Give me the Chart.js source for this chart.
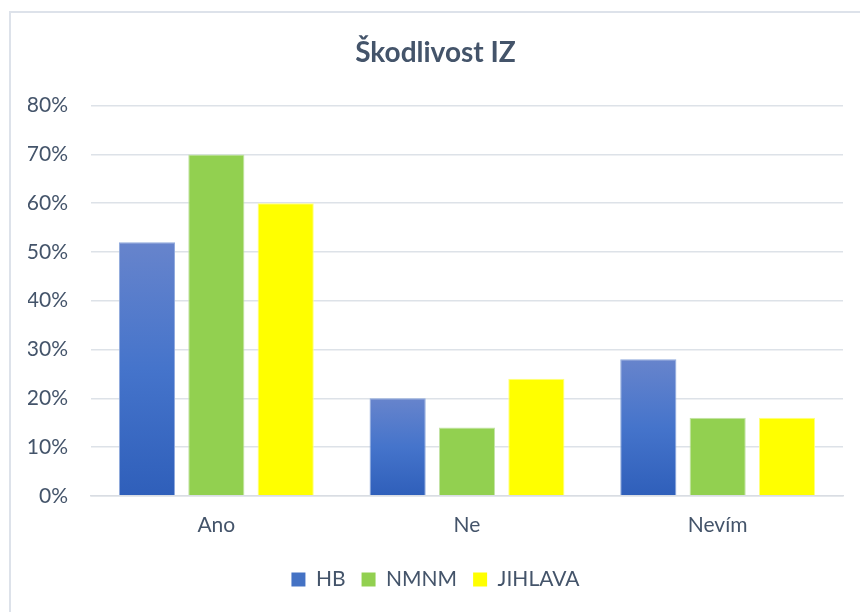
<!DOCTYPE html>
<html><head><meta charset="utf-8">
<script src="https://cdn.jsdelivr.net/npm/chart.js@4/dist/chart.umd.min.js"></script>
<style>html,body{margin:0;padding:0;background:#fff;}#wrap{width:860px;height:612px;position:relative;}</style>
</head><body><div id="wrap"><canvas id="c" width="860" height="612"></canvas></div>
<script>
const categories = ["Ano", "Ne", "Nevím"];
const seriesNames = ["HB", "NMNM", "JIHLAVA"];
const hbValues = [52, 20, 28];
const nmnmValues = [70, 14, 16];
const jihlavaValues = [60, 24, 16];
const yTicks = [0, 10, 20, 30, 40, 50, 60, 70, 80];

const textColor = "#44546a";
const fontFam = "Lato, 'Open Sans', sans-serif";

function hbGradient(ctx) {
  const chart = ctx.chart;
  if (!chart.chartArea || ctx.type !== 'data') return "#4472c4";
  const y = chart.scales.y;
  const top = y.getPixelForValue(ctx.raw);
  const bot = y.getPixelForValue(0);
  const g = chart.ctx.createLinearGradient(0, top, 0, bot);
  g.addColorStop(0, "#6784cc");
  g.addColorStop(0.5, "#4574cb");
  g.addColorStop(1, "#2f5fba");
  return g;
}

const borderPlugin = {
  id: 'frame',
  beforeDraw(chart) {
    const c = chart.ctx;
    c.save();
    c.fillStyle = "#fff";
    c.fillRect(0, 0, chart.width, chart.height);
    c.strokeStyle = "#dde2ea";
    c.lineWidth = 2;
    c.strokeRect(10, 12, 900, 700);
    c.restore();
  }
};

new Chart(document.getElementById('c'), {
  type: 'bar',
  data: {
    labels: categories,
    datasets: [
      { label: seriesNames[0], data: hbValues, backgroundColor: hbGradient, borderColor: "#8fa9dc", borderWidth: 1 },
      { label: seriesNames[1], data: nmnmValues, backgroundColor: "#92d050", borderColor: "#c4e3a8", borderWidth: 1 },
      { label: seriesNames[2], data: jihlavaValues, backgroundColor: "#ffff00", borderColor: "#ffff80", borderWidth: 1 }
    ]
  },
  options: {
    responsive: false,
    animation: false,
    devicePixelRatio: 1,
    layout: { padding: { left: 28, right: 17, top: 36, bottom: 12 } },
    categoryPercentage: 0.83,
    barPercentage: 0.81,
    plugins: {
      title: { display: true, text: "Škodlivost IZ", color: textColor,
        font: { family: fontFam, size: 28, weight: 'bold' }, padding: { top: 0, bottom: 36 } },
      legend: { position: 'bottom',
        labels: { color: textColor, font: { family: fontFam, size: 21 }, boxWidth: 14, boxHeight: 14, padding: 16,
          generateLabels(chart) {
            return chart.data.datasets.map((d, i) => ({
              text: d.label,
              fillStyle: ["#4472c4", "#92d050", "#ffff00"][i],
              strokeStyle: ["#4472c4", "#92d050", "#ffff00"][i],
              lineWidth: 0, fontColor: textColor, datasetIndex: i, hidden: false
            }));
          } } },
      tooltip: { enabled: false }
    },
    scales: {
      x: {
        afterFit(s) { s.height += 6; },
        grid: { display: false },
        border: { display: true, color: "#d9dde3", width: 1.5 },
        ticks: { color: textColor, font: { family: fontFam, size: 21 }, padding: 9 }
      },
      y: {
        min: 0, max: 80,
        afterBuildTicks(s) { s.ticks = yTicks.map(v => ({ value: v })); },
        afterFit(s) { s.width = 63; },
        grid: { color: "#dde2e8", lineWidth: 1.5, drawTicks: false },
        border: { display: false },
        ticks: { color: textColor, font: { family: fontFam, size: 21 }, padding: 23,
          callback: v => v + "%" }
      }
    }
  },
  plugins: [borderPlugin]
});
</script></body></html>
